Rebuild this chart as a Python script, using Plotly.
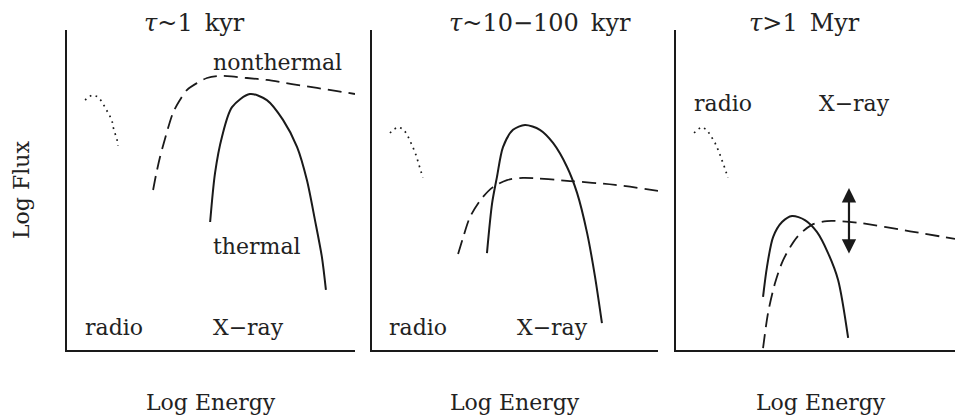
import plotly.graph_objects as go

# ---------------- data (arbitrary log units, x 0-10, y 0-10 per panel) -------------
titles = ["<i>τ</i>~1\u2002kyr", "<i>τ</i>~10−100\u2002kyr", "<i>τ</i>&gt;1\u2002Myr"]

# Panel 1
p1_radio_x = [0.63, 0.73, 0.90, 1.08, 1.22, 1.32, 1.42, 1.56, 1.60, 1.67, 1.74, 1.77]
p1_radio_y = [7.81, 7.91, 7.97, 7.91, 7.75, 7.59, 7.41, 7.19, 6.97, 6.78, 6.56, 6.38]
p1_nt_x = [2.99, 3.09, 3.23, 3.44, 3.68, 3.92, 4.17, 4.51, 4.86, 5.21, 5.56, 6.25, 6.94, 7.81, 8.68, 9.38, 10.0]
p1_nt_y = [5.00, 5.47, 6.03, 6.72, 7.41, 7.81, 8.13, 8.34, 8.50, 8.56, 8.56, 8.50, 8.44, 8.31, 8.19, 8.09, 8.00]
p1_th_x = [4.97, 5.14, 5.38, 5.73, 6.35, 6.94, 7.50, 7.99, 8.33, 8.61, 8.85, 8.99]
p1_th_y = [4.00, 5.53, 6.66, 7.59, 8.00, 7.81, 7.19, 6.34, 5.31, 4.06, 2.91, 1.88]

# Panel 2
p2_radio_x = [0.63, 0.73, 0.91, 1.08, 1.22, 1.33, 1.43, 1.54, 1.61, 1.68, 1.78]
p2_radio_y = [6.78, 6.88, 6.97, 6.91, 6.75, 6.56, 6.34, 6.09, 5.88, 5.63, 5.38]
p2_nt_x = [3.01, 3.18, 3.43, 3.85, 4.23, 4.72, 5.28, 6.92, 8.50, 10.0]
p2_nt_y = [3.00, 3.50, 4.16, 4.75, 5.09, 5.31, 5.38, 5.28, 5.16, 4.97]
p2_th_x = [4.02, 4.20, 4.37, 4.58, 4.93, 5.35, 5.87, 6.33, 6.82, 7.17, 7.52, 7.80, 8.04]
p2_th_y = [3.03, 4.59, 5.41, 6.34, 6.88, 7.03, 6.88, 6.47, 5.72, 4.91, 3.66, 2.28, 0.84]

# Panel 3
p3_radio_x = [0.65, 0.75, 0.93, 1.11, 1.25, 1.40, 1.54, 1.65, 1.76, 1.86]
p3_radio_y = [6.78, 6.88, 6.97, 6.88, 6.69, 6.47, 6.19, 5.94, 5.66, 5.38]
p3_nt_x = [3.12, 3.30, 3.55, 3.84, 4.34, 4.87, 5.41, 6.49, 8.39, 10.0]
p3_nt_y = [0.06, 1.16, 2.09, 2.81, 3.53, 3.91, 4.03, 3.98, 3.71, 3.47]
p3_th_x = [3.12, 3.26, 3.48, 3.80, 4.16, 4.62, 5.05, 5.45, 5.81, 6.17]
p3_th_y = [1.66, 2.59, 3.53, 4.00, 4.19, 4.06, 3.69, 3.03, 2.19, 0.38]
p3_arrow_x = 6.20
p3_arrow_y = [5.06, 2.97]

radio_x = [p1_radio_x, p2_radio_x, p3_radio_x]
radio_y = [p1_radio_y, p2_radio_y, p3_radio_y]
nt_x = [p1_nt_x, p2_nt_x, p3_nt_x]
nt_y = [p1_nt_y, p2_nt_y, p3_nt_y]
th_x = [p1_th_x, p2_th_x, p3_th_x]
th_y = [p1_th_y, p2_th_y, p3_th_y]

# ---------------- figure ----------------
W, H = 955, 420
FONT = "DejaVu Serif"
INK = "#1a1a1a"
TXT = "#222222"

x_dom = [[67 / W, 355 / W], [372 / W, 658 / W], [676 / W, 1.0]]
y_dom = [70 / H, 390 / H]

fig = go.Figure()
for i in range(3):
    xa = "x" if i == 0 else f"x{i+1}"
    ya = "y" if i == 0 else f"y{i+1}"
    fig.add_trace(go.Scatter(x=radio_x[i], y=radio_y[i], mode="lines", xaxis=xa, yaxis=ya,
                             line=dict(color=INK, width=1.7, dash="1.7px,4.5px"), showlegend=False))
    fig.add_trace(go.Scatter(x=nt_x[i], y=nt_y[i], mode="lines", xaxis=xa, yaxis=ya,
                             line=dict(color=INK, width=1.8, dash="14px,7px", shape="spline",
                                       smoothing=0.8),
                             showlegend=False))
    fig.add_trace(go.Scatter(x=th_x[i], y=th_y[i], mode="lines", xaxis=xa, yaxis=ya,
                             line=dict(color=INK, width=2, shape="spline", smoothing=0.8),
                             showlegend=False))

axis_common = dict(range=[0, 10], showgrid=False, zeroline=False, showticklabels=False,
                   ticks="", showline=True, linecolor=INK, linewidth=2, fixedrange=True)
layout = dict(width=W, height=H, margin=dict(l=0, r=0, t=0, b=0),
              paper_bgcolor="white", plot_bgcolor="white", showlegend=False)
for i in range(3):
    xk = "xaxis" if i == 0 else f"xaxis{i+1}"
    yk = "yaxis" if i == 0 else f"yaxis{i+1}"
    ya = "y" if i == 0 else f"y{i+1}"
    xa = "x" if i == 0 else f"x{i+1}"
    layout[xk] = dict(axis_common, domain=x_dom[i], anchor=ya)
    layout[yk] = dict(axis_common, domain=y_dom, anchor=xa)
fig.update_layout(**layout)

def ann(text, x, y, xref, yref, size=22, xanchor="center", angle=0):
    fig.add_annotation(text=text, x=x, y=y, xref=xref, yref=yref, showarrow=False,
                       xanchor=xanchor, yanchor="middle", textangle=angle,
                       font=dict(family=FONT, size=size, color=TXT))

# titles
title_x = [0.442, 0.587, 0.459]
for i in range(3):
    xa = "x" if i == 0 else f"x{i+1}"
    ya = "y" if i == 0 else f"y{i+1}"
    ann(titles[i], title_x[i], 1.022, f"{xa} domain", f"{ya} domain", size=24)
    ann("Log Energy", 0.5 if i < 2 else 0.52, 18 / H, f"{xa} domain", "paper", size=22)

ann("Log Flux", 22 / W, 1 - 190 / H, "paper", "paper", size=22, angle=-90)

# panel labels
ann("nonthermal", 5.0, 8.97, "x", "y", xanchor="left")
ann("thermal", 5.0, 3.22, "x", "y", xanchor="left")
ann("radio", 0.55, 0.69, "x", "y", xanchor="left")
ann("X−ray", 5.0, 0.69, "x", "y", xanchor="left")
ann("radio", 0.52, 0.69, "x2", "y2", xanchor="left")
ann("X−ray", 5.0, 0.69, "x2", "y2", xanchor="left")
ann("radio", 0.57, 7.69, "x3", "y3", xanchor="left")
ann("X−ray", 5.05, 7.69, "x3", "y3", xanchor="left")

# double-headed arrow
fig.add_annotation(x=p3_arrow_x, y=p3_arrow_y[0], ax=p3_arrow_x, ay=p3_arrow_y[1],
                   xref="x3", yref="y3", axref="x3", ayref="y3", text="", showarrow=True,
                   arrowhead=2, arrowside="end+start", arrowsize=1.3, arrowwidth=2.2,
                   arrowcolor=INK, standoff=0, startstandoff=0)

fig.write_html("out.html")
